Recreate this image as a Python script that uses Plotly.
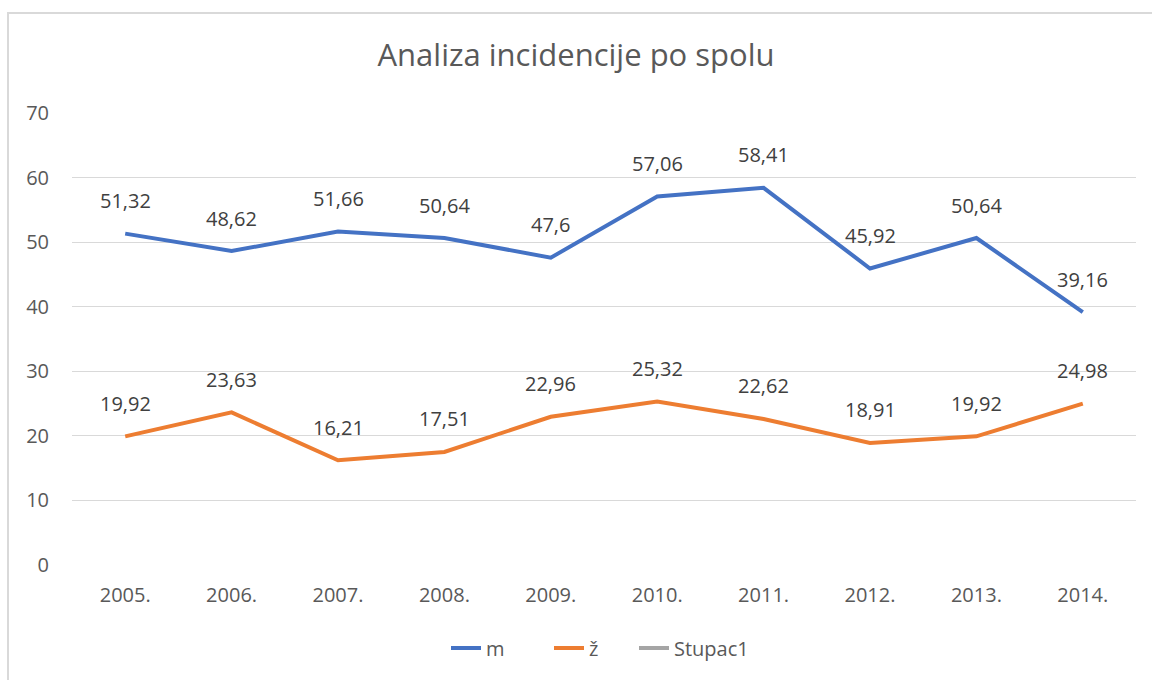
import plotly.graph_objects as go

years = ["2005.", "2006.", "2007.", "2008.", "2009.", "2010.", "2011.", "2012.", "2013.", "2014."]
m_vals = [51.32, 48.62, 51.66, 50.64, 47.6, 57.06, 58.41, 45.92, 50.64, 39.16]
z_vals = [19.92, 23.63, 16.21, 17.51, 22.96, 25.32, 22.62, 18.91, 19.92, 24.98]
stupac1 = [None] * len(years)

def fmt(v):
    s = ("%.2f" % v).rstrip("0").rstrip(".")
    return s.replace(".", ",")

fig = go.Figure()
fig.add_trace(go.Scatter(x=years, y=m_vals, mode="lines", name="m", legend="legend",
                         line=dict(color="#4472C4", width=4)))
fig.add_trace(go.Scatter(x=years, y=z_vals, mode="lines", name="ž", legend="legend2",
                         line=dict(color="#ED7D31", width=4)))
fig.add_trace(go.Scatter(x=years, y=stupac1, mode="lines", name="Stupac1", legend="legend3",
                         line=dict(color="#A5A5A5", width=4)))

annotations = []
for series in (m_vals, z_vals):
    for i, v in enumerate(series):
        annotations.append(dict(x=i, y=v, xref="x", yref="y", text=fmt(v),
                                showarrow=False, yshift=33,
                                font=dict(size=20, color="#404040")))

def leg(px):
    return dict(orientation="h", x=(px - 72) / 1064, xanchor="left",
                y=(565 - 648) / 452, yanchor="middle", bgcolor="rgba(0,0,0,0)",
                font=dict(size=20, color="#595959"))

fig.update_layout(
    width=1152, height=680,
    margin=dict(l=72, r=16, t=113, b=115),
    paper_bgcolor="white", plot_bgcolor="white",
    font=dict(family="Open Sans, DejaVu Sans, sans-serif", color="#595959"),
    title=dict(text="Analiza incidencije po spolu", x=0.5, xanchor="center",
               y=1 - 55 / 680, yanchor="middle",
               font=dict(size=31, color="#595959")),
    xaxis=dict(type="category", range=[-0.5, 9.5], showgrid=False, showline=False,
               zeroline=False, tickfont=dict(size=20, color="#595959"), ticks="",
               ticklabelstandoff=16),
    yaxis=dict(range=[0, 70], dtick=10, showgrid=True, gridcolor="#D9D9D9", gridwidth=1,
               zeroline=False, showline=False, tickfont=dict(size=20, color="#595959"),
               ticklabelstandoff=22),
    legend=leg(446),
    legend2=leg(549),
    legend3=leg(634),
    annotations=annotations,
    shapes=[dict(type="rect", xref="paper", yref="paper",
                 x0=(8 - 72) / 1064, x1=(1165 - 72) / 1064,
                 y0=(565 - 700) / 452, y1=(565 - 13) / 452,
                 line=dict(color="#D9D9D9", width=2), layer="below")],
    showlegend=True,
)

fig.write_html("out.html", config={"displayModeBar": False},
               post_script="document.body.style.margin='0';")
